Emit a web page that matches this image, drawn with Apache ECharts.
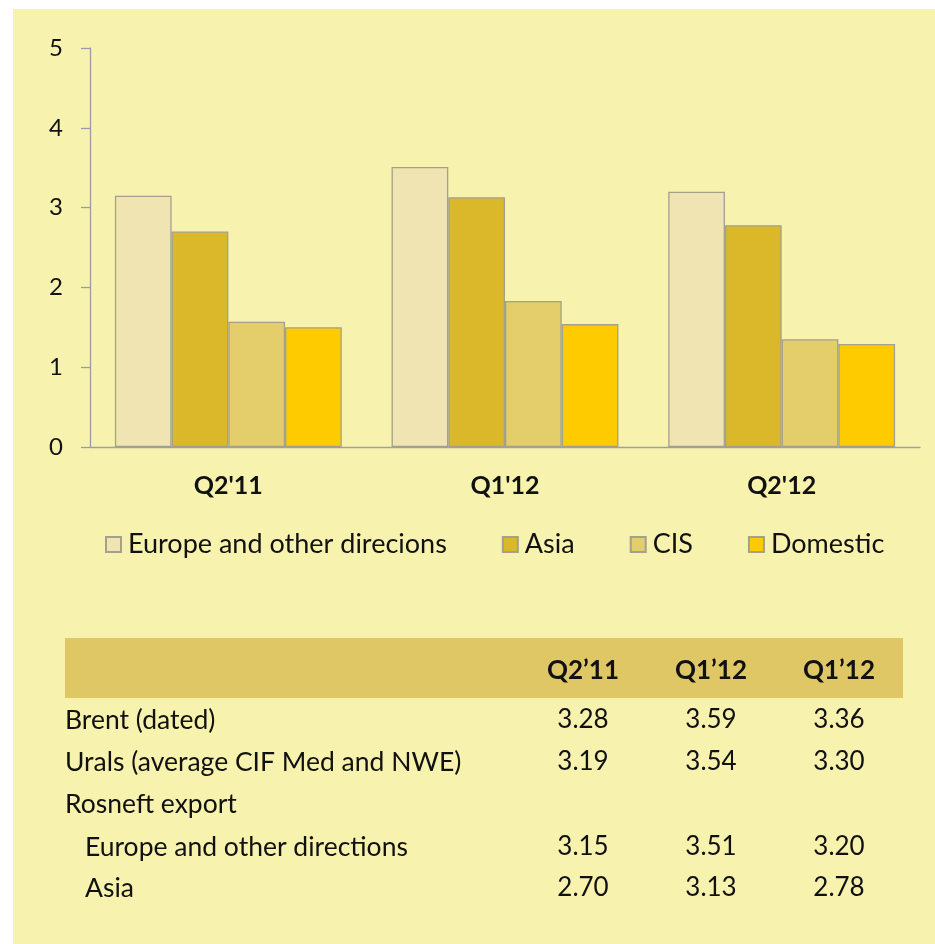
<!DOCTYPE html>
<html>
<head>
<meta charset="utf-8">
<script src="https://cdn.jsdelivr.net/npm/echarts@6/dist/echarts.min.js"></script>
<style>
    html, body { margin: 0; padding: 0; background: #ffffff; }
    #chart { position: absolute; left: 13px; top: 9px; width: 922px; height: 935px; }
</style>
</head>
<body>
<div id="chart"></div>
<script>
// chart data
const categories = ["Q2'11", "Q1'12", "Q2'12"];
const europe = [3.15, 3.51, 3.20];
const asia = [2.70, 3.13, 2.78];
const cis = [1.57, 1.83, 1.35];
const domestic = [1.50, 1.54, 1.29];
const yTicks = [0, 1, 2, 3, 4, 5];

// table under the chart
const tableHeads = ["Q2’11", "Q1’12", "Q1’12"];
const rowLabels = ["Brent (dated)", "Urals (average CIF Med and NWE)", "Rosneft export", "Europe and other directions", "Asia"];
const rowIndent = [false, false, false, true, true];
const brent = [3.28, 3.59, 3.36];
const urals = [3.19, 3.54, 3.30];
const rosneft = [];
const exportEurope = [3.15, 3.51, 3.20];
const exportAsia = [2.70, 3.13, 2.78];

document.addEventListener("DOMContentLoaded", function () {
    const chart = echarts.init(document.querySelector("#chart"));
    const font = "Lato";
    const border = "#a3a08e";

    function bar(name, data, color) {
        return {
            name: name,
            type: "bar",
            data: data,
            barGap: 0,
            barCategoryGap: "18%",
            itemStyle: { color: color, borderColor: border, borderWidth: 1.3 }
        };
    }

    // table drawn as graphic elements (coords relative to the chart div)
    const ox = -13, oy = -9;
    const colX = [583, 711, 839];
    const rowY = [720, 762, 804, 847, 888];
    const rowValues = [brent, urals, rosneft, exportEurope, exportAsia];
    const graphics = [{
        type: "rect",
        shape: { x: 65 + ox, y: 638 + oy, width: 838, height: 60 },
        style: { fill: "#dfc766" },
        silent: true
    }];
    tableHeads.forEach((h, i) => graphics.push({
        type: "text",
        x: colX[i] + ox, y: 671 + oy,
        style: { text: h, font: "bold 26px " + font, fill: "#111", align: "center", verticalAlign: "middle" }
    }));
    rowLabels.forEach((label, r) => {
        graphics.push({
            type: "text",
            x: (rowIndent[r] ? 85 : 65) + ox, y: rowY[r] + oy,
            style: { text: label, font: "26.5px " + font, fill: "#111", align: "left", verticalAlign: "middle" }
        });
        rowValues[r].forEach((v, i) => graphics.push({
            type: "text",
            x: colX[i] + ox, y: rowY[r] + oy,
            style: { text: v.toFixed(2), font: "26px " + font, fill: "#111", align: "center", verticalAlign: "middle" }
        }));
    });

    chart.setOption({
        backgroundColor: "#f7f2ad",
        textStyle: { fontFamily: font },
        animation: false,
        grid: { left: 90 + ox, right: 15, top: 48 + oy, bottom: 944 - 447 },
        legend: {
            left: 105 + ox,
            top: 531 + oy,
            padding: 0,
            icon: "rect",
            itemWidth: 15,
            itemHeight: 15,
            itemGap: 55,
            textStyle: { fontSize: 27, color: "#111", fontFamily: font, padding: [0, 0, 0, 2] },
            data: ["Europe and other direcions", "Asia", "CIS", "Domestic"]
        },
        xAxis: {
            type: "category",
            data: categories,
            axisLine: { lineStyle: { color: "#a0a0a0", width: 1.3 } },
            axisTick: { length: 9, lineStyle: { color: "#a0a0a0", width: 1.3 } },
            axisLabel: { margin: 26, fontSize: 25, fontWeight: "bold", color: "#111", fontFamily: font }
        },
        yAxis: {
            type: "value",
            min: yTicks[0],
            max: yTicks[yTicks.length - 1],
            interval: 1,
            splitLine: { show: false },
            axisLine: { show: true, lineStyle: { color: "#9a9aaa", width: 1.3 } },
            axisTick: { show: true, length: 9, lineStyle: { color: "#9a9aaa", width: 1.3 } },
            axisLabel: { margin: 27, fontSize: 24, color: "#111", fontFamily: font }
        },
        series: [
            bar("Europe and other direcions", europe, "#efe4b2"),
            bar("Asia", asia, "#dab82a"),
            bar("CIS", cis, "#e3ce6b"),
            bar("Domestic", domestic, "#fecb00")
        ],
        graphic: graphics
    });
});
</script>
</body>
</html>
